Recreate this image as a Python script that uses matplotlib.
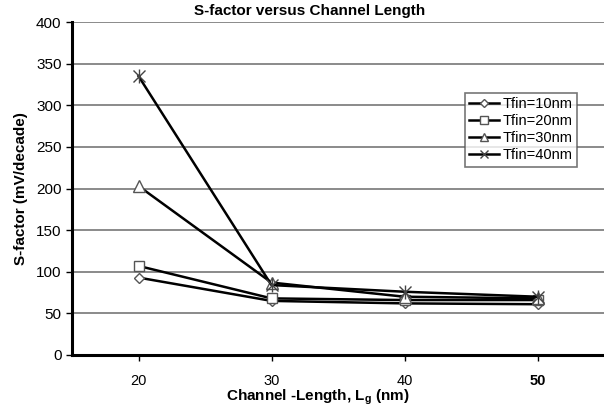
import matplotlib
matplotlib.use("Agg")
import matplotlib.pyplot as plt
from matplotlib.lines import Line2D

plt.rcParams['font.family'] = ['Liberation Sans', 'DejaVu Sans']

lengths = [20, 30, 40, 50]
tfin10 = [93, 65, 62, 61]
tfin20 = [107, 68, 66, 66]
tfin30 = [203, 87, 70, 68]
tfin40 = [335, 84, 76, 70]
series_labels = ["Tfin=10nm", "Tfin=20nm", "Tfin=30nm", "Tfin=40nm"]
y_ticks = [0, 50, 100, 150, 200, 250, 300, 350, 400]
x_ticks = [20, 30, 40, 50]

fig = plt.figure(figsize=(6.04, 4.07), dpi=100)
ax = fig.add_axes([72/604, 1-355/407, (604-72)/604, (355-22)/407])

styles = [
    dict(marker='D', markersize=5),
    dict(marker='s', markersize=7),
    dict(marker='^', markersize=8),
    dict(marker='x', markersize=9),
]
data = [tfin10, tfin20, tfin30, tfin40]
handles = []
for vals, lab, st in zip(data, series_labels, styles):
    if st['marker'] == 'x':
        ax.plot(lengths, vals, color='black', lw=1.8, marker='x',
                markersize=st['markersize'], markeredgecolor='#444444',
                markeredgewidth=1.0, zorder=3)
        ax.plot(lengths, vals, linestyle='none', marker='|', markersize=st['markersize']+1,
                markeredgecolor='#444444', markeredgewidth=1.0, zorder=4)
        h = Line2D([], [], color='black', lw=1.8, marker='x', markersize=6,
                   markeredgecolor='#444444', markeredgewidth=1.0)
    else:
        ax.plot(lengths, vals, color='black', lw=1.8, marker=st['marker'],
                markersize=st['markersize'], markerfacecolor='white',
                markeredgecolor='#555555', markeredgewidth=1.0, zorder=3)
        h = Line2D([], [], color='black', lw=1.8, marker=st['marker'],
                   markersize=st['markersize'] * 0.75, markerfacecolor='white',
                   markeredgecolor='#555555', markeredgewidth=1.0)
    handles.append(h)

ax.set_xlim(15, 55)
ax.set_ylim(0, 400)
ax.set_yticks(y_ticks)
ax.set_xticks(x_ticks)
ax.set_xticklabels([str(v) for v in x_ticks])
ax.get_xticklabels()[-1].set_fontweight('bold')
ax.yaxis.grid(True, color='#777777', lw=1.2)
ax.set_axisbelow(True)
for s in ['top', 'right']:
    ax.spines[s].set_visible(False)
for s in ['left', 'bottom']:
    ax.spines[s].set_linewidth(2.2)
    ax.spines[s].set_color('black')
ax.tick_params(axis='both', labelsize=11, direction='out', length=4, width=1, color='black')
ax.tick_params(axis='x', labelsize=10.5, pad=9.5)

fig.text(318/604, (407-400)/407, "Channel -Length, L$_\\mathregular{g}$ (nm)", ha='center',
         va='baseline', fontsize=11, fontweight='bold')
ax.set_ylabel("S-factor (mV/decade)", fontsize=11, fontweight='bold', labelpad=6)
fig.text(0.513, 0.972, "S-factor versus Channel Length", ha='center', va='center',
         fontsize=11, fontweight='bold')

leg = ax.legend(handles=handles, labels=series_labels, loc='upper left',
                bbox_to_anchor=((465-72)/532, 1-(93-22)/333),
                fontsize=10.5, frameon=True, fancybox=False, edgecolor='#555555',
                borderpad=0.3, labelspacing=0.2, handlelength=2.0, handletextpad=0.3,
                borderaxespad=0)
leg.get_frame().set_linewidth(1.2)

fig.savefig("out.png", dpi=100)
